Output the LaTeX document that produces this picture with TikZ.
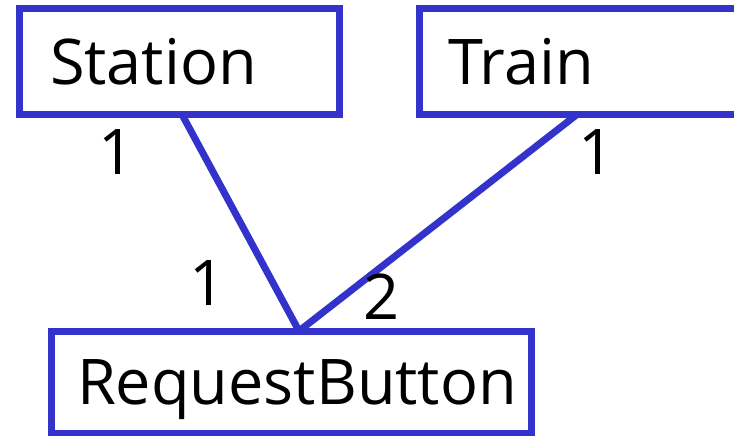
\documentclass[tikz,border=0pt]{standalone}
\usepackage{fontspec}
\setmainfont{Open Sans}
\definecolor{umlblue}{RGB}{51,51,204}
\tikzset{
  classbox/.style={draw=umlblue, line width=7pt, rectangle, outer sep=0pt,
    anchor=north west, align=left, text height=45pt, text depth=0pt,
    inner ysep=0pt, font=\fontsize{63}{75}\selectfont},
  assoc/.style={draw=umlblue, line width=7pt},
  mult/.style={font=\fontsize{63}{75}\selectfont, text height=45pt, text depth=0pt, inner sep=0pt}
}
\begin{document}
\begin{tikzpicture}[x=1pt,y=-1pt]
  \useasboundingbox (0,0) rectangle (734,436);
  % classes
  \node[classbox, minimum width=320pt, minimum height=105.5pt, inner xsep=30.5pt, text width=259pt]
    (station) at (19.5,9) {Station};
  \node[classbox, minimum width=325.5pt, minimum height=105.5pt, inner xsep=28.5pt, text width=268.5pt]
    (train) at (419.5,9) {Train};
  \node[classbox, minimum width=480pt, minimum height=102pt, inner xsep=26pt, text width=428pt]
    (button) at (51,331) {RequestButton};
  % association end points
  \coordinate (sEnd) at ([xshift=162.5pt]station.south west);
  \coordinate (tEnd) at ([xshift=157.5pt]train.south west);
  \coordinate (bEnd) at ([xshift=248pt]button.north west);
  % associations
  \draw[assoc] (sEnd) -- (bEnd);
  \draw[assoc] (tEnd) -- (bEnd);
  % multiplicities
  \node[mult] (m1) at (117,152) {1};
  \node[mult] (m2) at (597,152) {1};
  \node[mult] (m3) at (208,283) {1};
  \node[mult] (m4) at (382,297) {2};
\end{tikzpicture}
\end{document}
